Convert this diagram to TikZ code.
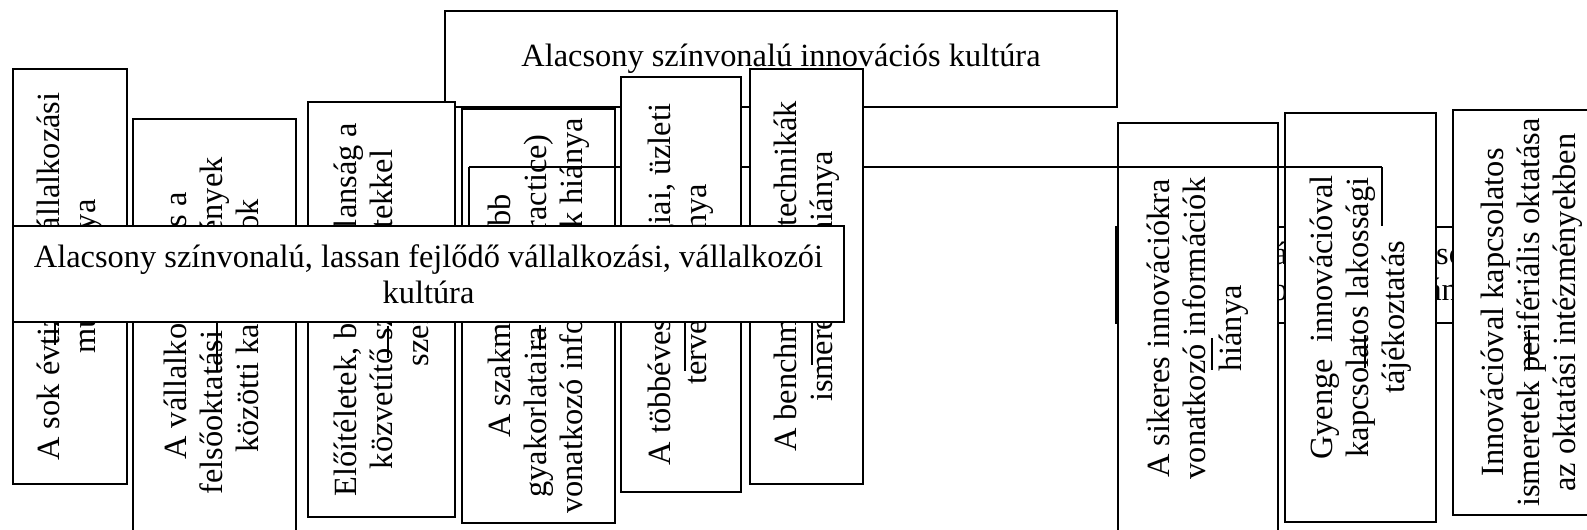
\documentclass[tikz,border=0pt]{standalone}
\usepackage{fontspec}
\setmainfont{Liberation Serif}
\begin{document}
\begin{tikzpicture}[x=0.5pt,y=-0.5pt,
  box/.style={draw, fill=white, line width=0.9pt, inner sep=0pt, align=center,
    font=\fontsize{16.2pt}{18pt}\selectfont},
  vbox/.style={box, rotate=90},
  conn/.style={line width=0.9pt}]
\useasboundingbox (0,0) rectangle (1587,530);
% top box
\node[box, minimum width=336pt, minimum height=48pt] (T) at (781,59)
  {Alacsony színvonalú innovációs kultúra};
% hidden right middle box
\node[box, minimum width=246pt, minimum height=48pt] (H2) at (1362,275)
  {Innovációval kapcsolatos\\információk hiánya};
% left vertical boxes
\node[vbox, minimum width=207.5pt, minimum height=57pt] (B1) at (70,276.5)
  {A sok évtizedes vállalkozási\\múlt hiánya};
\node[vbox, minimum width=207pt, minimum height=81.5pt] (B2) at (214.5,326)
  {A vállalkozások és a\\felsőoktatási intézmények\\közötti kapcsolatok};
\node[vbox, minimum width=207.5pt, minimum height=73.5pt] (B3) at (381.5,309.5)
  {Előítéletek, bizalmatlanság a\\közvetítő szervezetekkel\\szemben};
\node[vbox, minimum width=207pt, minimum height=76.5pt] (B4) at (538.5,316)
  {A szakmai legjobb\\gyakorlataira (best practice)\\vonatkozó információk hiánya};
% right vertical boxes
\node[vbox, minimum width=205.5pt, minimum height=80pt] (B8) at (1198,328.5)
  {A sikeres innovációkra\\vonatkozó információk\\hiánya};
\node[vbox, minimum width=204.5pt, minimum height=75.5pt] (B9) at (1360.5,317.5)
  {Gyenge~ innovációval\\kapcsolatos lakossági\\tájékoztatás};
\node[vbox, minimum width=202.5pt, minimum height=79pt] (B10) at (1532,312.5)
  {Innovációval kapcsolatos\\ismeretek perifériális oktatása\\az oktatási intézményekben};
% connector
\coordinate (cl) at (469,167);
\coordinate (cr) at (1382,167);
\draw[conn] (cl) -- (cr);
% boxes on top of the connector
\node[vbox, minimum width=207.5pt, minimum height=60pt] (B6) at (681,284.5)
  {A többéves stratégiai, üzleti\\tervezés hiánya};
\node[vbox, minimum width=207.5pt, minimum height=56.5pt] (B7) at (806.5,276.5)
  {A benchmarking technikák\\ismeretének hiánya};
% middle wide box
\node[box, minimum width=415.5pt, minimum height=48pt] (M) at (428.5,274)
  {Alacsony színvonalú, lassan fejlődő vállalkozási, vállalkozói\\kultúra};
% connector ends
\draw[conn] (M.north -| cl) -- (cl);
\draw[conn] (cr) -- (H2.north -| cr);
% short line pieces
\coordinate (s1) at (55,345);
\coordinate (s2) at (217,372);
\coordinate (s3a) at (388,326);
\coordinate (s3b) at (388,358);
\coordinate (s4a) at (540,325);
\coordinate (s4b) at (540,350);
\coordinate (s6) at (685,371);
\coordinate (s7) at (812,365);
\coordinate (s8a) at (1212,338);
\coordinate (s8b) at (1212,370);
\coordinate (s9a) at (1365,335);
\coordinate (s9b) at (1365,368);
\coordinate (s10a) at (1529,330);
\coordinate (s10b) at (1529,370);
\draw[conn] (M.south -| s1) -- (s1);
\draw[conn] (M.south -| s2) -- (s2);
\draw[conn] (s3a) -- (s3b);
\draw[conn] (s4a) -- (s4b);
\draw[conn] (M.south -| s6) -- (s6);
\draw[conn] (M.south -| s7) -- (s7);
\draw[conn] (s8a) -- (s8b);
\draw[conn] (s9a) -- (s9b);
\draw[conn] (s10a) -- (s10b);
\end{tikzpicture}
\end{document}
